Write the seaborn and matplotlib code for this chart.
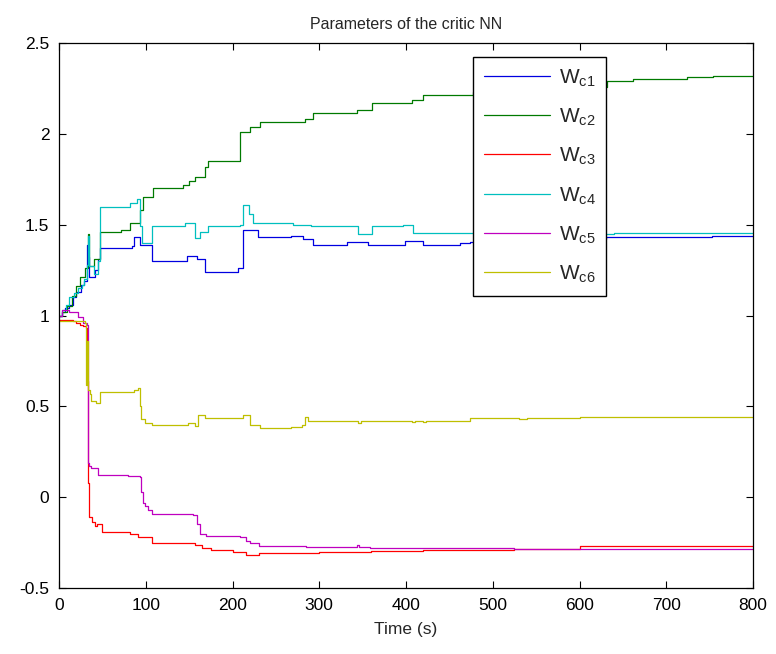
import pandas as pd
import matplotlib
matplotlib.use("Agg")
import matplotlib.pyplot as plt
import seaborn as sns

# critic NN weights (step-wise updates)
t_w1 = [0, 3, 7, 12, 16, 20, 25, 29, 32, 33, 35, 38, 42, 45, 47, 84, 87, 93, 107, 147, 159, 168, 206, 212, 229, 268, 281, 293, 332, 356, 399, 420, 462, 474, 560, 630, 753, 800]
w1 = [1.0, 1.02, 1.04, 1.06, 1.10, 1.13, 1.17, 1.19, 1.39, 1.32, 1.21, 1.21, 1.25, 1.31, 1.37, 1.38, 1.43, 1.39, 1.30, 1.33, 1.31, 1.24, 1.26, 1.47, 1.43, 1.44, 1.42, 1.39, 1.405, 1.39, 1.41, 1.39, 1.40, 1.405, 1.42, 1.43, 1.435, 1.435]

t_w2 = [0, 3, 9, 15, 20, 24, 30, 33, 35, 40, 47, 72, 82, 93, 97, 108, 143, 150, 157, 168, 172, 209, 220, 232, 283, 293, 343, 361, 407, 420, 477, 560, 632, 662, 724, 754, 800]
w2 = [1.0, 1.02, 1.05, 1.11, 1.16, 1.21, 1.26, 1.45, 1.27, 1.31, 1.46, 1.47, 1.51, 1.58, 1.65, 1.70, 1.72, 1.74, 1.76, 1.82, 1.85, 2.01, 2.04, 2.065, 2.08, 2.115, 2.13, 2.17, 2.185, 2.215, 2.23, 2.26, 2.29, 2.30, 2.315, 2.32, 2.32]

t_w3 = [0, 16, 20, 24, 28, 31, 32, 33, 34, 35, 38, 41, 44, 49, 82, 91, 107, 157, 165, 175, 200, 215, 230, 260, 300, 360, 420, 525, 600, 800]
w3 = [0.975, 0.97, 0.96, 0.95, 0.94, 0.93, 0.64, 0.13, 0.08, -0.11, -0.135, -0.16, -0.15, -0.19, -0.20, -0.22, -0.25, -0.265, -0.28, -0.29, -0.30, -0.32, -0.31, -0.305, -0.30, -0.295, -0.29, -0.283, -0.268, -0.268]

t_w4 = [0, 3, 8, 12, 17, 22, 26, 29, 32, 33, 35, 40, 45, 47, 82, 90, 93, 96, 107, 145, 157, 162, 172, 209, 212, 219, 224, 270, 291, 345, 361, 397, 408, 500, 640, 720, 800]
w4 = [1.0, 1.03, 1.06, 1.10, 1.125, 1.15, 1.17, 1.20, 1.28, 1.44, 1.27, 1.23, 1.30, 1.60, 1.62, 1.64, 1.49, 1.40, 1.49, 1.51, 1.425, 1.46, 1.49, 1.50, 1.61, 1.56, 1.51, 1.50, 1.49, 1.45, 1.49, 1.50, 1.455, 1.45, 1.455, 1.455, 1.455]

t_w5 = [0, 4, 12, 22, 28, 32, 33, 34, 35, 37, 45, 80, 93, 95, 97, 99, 103, 107, 155, 159, 162, 170, 209, 215, 220, 230, 285, 343, 346, 358, 412, 525, 800]
w5 = [1.0, 1.03, 1.02, 0.99, 0.96, 0.95, 0.62, 0.19, 0.17, 0.16, 0.12, 0.115, 0.11, 0.03, -0.03, -0.05, -0.07, -0.09, -0.10, -0.15, -0.20, -0.215, -0.22, -0.24, -0.255, -0.27, -0.277, -0.265, -0.275, -0.278, -0.28, -0.287, -0.287]

t_w6 = [0, 30, 31, 32, 33, 34, 36, 37, 43, 47, 86, 91, 93, 95, 99, 107, 149, 155, 157, 160, 168, 206, 212, 218, 220, 232, 268, 280, 283, 287, 297, 345, 348, 407, 410, 420, 423, 474, 530, 540, 600, 800]
w6 = [0.97, 0.96, 0.62, 0.86, 0.60, 0.59, 0.57, 0.53, 0.52, 0.58, 0.59, 0.60, 0.50, 0.43, 0.41, 0.40, 0.41, 0.41, 0.39, 0.45, 0.435, 0.437, 0.455, 0.45, 0.40, 0.383, 0.387, 0.40, 0.44, 0.42, 0.42, 0.41, 0.42, 0.415, 0.42, 0.415, 0.42, 0.435, 0.43, 0.435, 0.44, 0.44]

labels = ["W$_{\\mathrm{c1}}$", "W$_{\\mathrm{c2}}$", "W$_{\\mathrm{c3}}$",
          "W$_{\\mathrm{c4}}$", "W$_{\\mathrm{c5}}$", "W$_{\\mathrm{c6}}$"]
colors = ["#0000e0", "#007a00", "#ff0000", "#00bfbf", "#bf00bf", "#bfbf00"]

frames = []
for lab, tt, ww in zip(labels, [t_w1, t_w2, t_w3, t_w4, t_w5, t_w6], [w1, w2, w3, w4, w5, w6]):
    frames.append(pd.DataFrame({"t": tt, "w": ww, "name": lab}))
df = pd.concat(frames, ignore_index=True)

sns.set_theme(style="ticks")
plt.rcParams["font.family"] = ["Liberation Sans", "DejaVu Sans"]
plt.rcParams["mathtext.fontset"] = "custom"
plt.rcParams["mathtext.rm"] = "Liberation Sans"

fig = plt.figure(figsize=(7.76, 6.54), dpi=100)
ax = fig.add_axes([59 / 776, 1 - 588 / 654, 694 / 776, 545 / 654])

sns.lineplot(data=df, x="t", y="w", hue="name", palette=colors, estimator=None,
             sort=False, drawstyle="steps-post", linewidth=0.9, ax=ax)

ax.set_xlim(0, 800)
ax.set_ylim(-0.5, 2.5)
ax.set_xticks(range(0, 801, 100))
ax.set_yticks([-0.5, 0, 0.5, 1, 1.5, 2, 2.5])
ax.set_yticklabels(["-0.5", "0", "0.5", "1", "1.5", "2", "2.5"])
ax.tick_params(direction="in", top=True, right=True, length=5, width=0.8,
               labelsize=12.5, colors="black", pad=7)
for s in ax.spines.values():
    s.set_linewidth(0.9)
    s.set_color("black")

ax.set_title("Parameters of the critic NN", fontsize=11.5, pad=10)
ax.set_xlabel("Time (s)", fontsize=12.5, labelpad=7)
ax.set_ylabel("")

leg = ax.legend(loc="upper left", bbox_to_anchor=(0.597, 0.975), borderaxespad=0,
                fontsize=15, frameon=True, fancybox=False, framealpha=1,
                edgecolor="black", handlelength=3.2, labelspacing=0.85,
                borderpad=0.5, handletextpad=0.4)
leg.get_frame().set_linewidth(1.0)

fig.savefig("out.png", dpi=100)
